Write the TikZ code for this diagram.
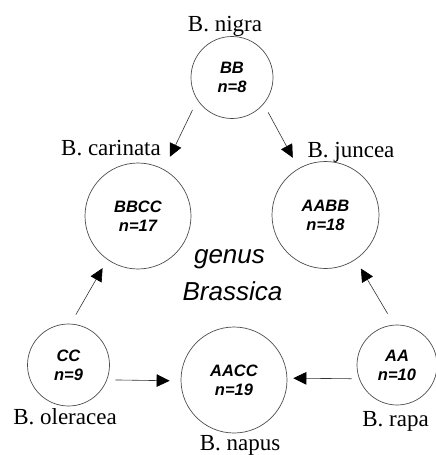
\documentclass[tikz,border=0pt]{standalone}
\usepackage{fontspec}
\setmainfont{Liberation Serif}
\newfontfamily\arialf{Liberation Sans}
\usetikzlibrary{arrows.meta}
\begin{document}
\begin{tikzpicture}[x=1pt,y=-1pt,
  cell/.style={circle,draw=black!70,line width=0.7pt,inner sep=0pt,align=center,
    font=\arialf\fontsize{16.5}{19}\selectfont\bfseries\itshape},
  lbl/.style={anchor=base,inner sep=0pt,font=\fontsize{23}{27}\selectfont},
  gen/.style={anchor=base,inner sep=0pt,font=\arialf\fontsize{26}{30}\selectfont\itshape},
  arr/.style={line width=0.6pt,draw=black!80,-{Triangle[length=13pt,width=12.5pt,black]}}]
\useasboundingbox (0,0) rectangle (436,455);
% circles
\node[cell,minimum size=82pt]  (nigra)    at (232,77.5) {BB\\n=8};
\node[cell,minimum size=106pt] (carinata) at (138,216)  {BBCC\\n=17};
\node[cell,minimum size=107pt] (juncea)   at (325.5,215) {AABB\\n=18};
\node[cell,minimum size=82pt]  (oleracea) at (68.5,365) {CC\\n=9};
\node[cell,minimum size=80pt]  (rapa)     at (397,365)  {AA\\n=10};
\node[cell,minimum size=106pt] (napus)    at (234,380)  {AACC\\n=19};
% labels
\node[lbl] (nigraL)    at (225,31)    {B. nigra};
\node[lbl] (carinataL) at (111,155)   {B. carinata};
\node[lbl] (junceaL)   at (351,157)   {B. juncea};
\node[lbl] (oleraceaL) at (65,424)    {B. oleracea};
\node[lbl] (rapaL)     at (395.5,426) {B. rapa};
\node[lbl] (napusL)    at (240,450)   {B. napus};
\node[gen] (genus)     at (229.5,263) {genus};
\node[gen] (brassica)  at (232.5,300) {Brassica};
% arrows
\draw[arr,shorten <=11pt,shorten >=14pt]    (nigra.213) -- (carinata.61);
\draw[arr,shorten <=9.4pt,shorten >=12.1pt] (nigra.320) -- (juncea.120);
\draw[arr,shorten <=10.5pt,shorten >=9.7pt] (oleracea.87) -- (carinata.235);
\draw[arr,shorten <=12.9pt,shorten >=10.3pt] (rapa.94) -- (juncea.304);
\draw[arr,shorten <=8.3pt,shorten >=11pt]   (oleracea.-21.4) -- (napus.181);
\draw[arr,shorten <=7.5pt,shorten >=6pt]    (rapa.200.5) -- (napus.2);
\end{tikzpicture}
\end{document}
